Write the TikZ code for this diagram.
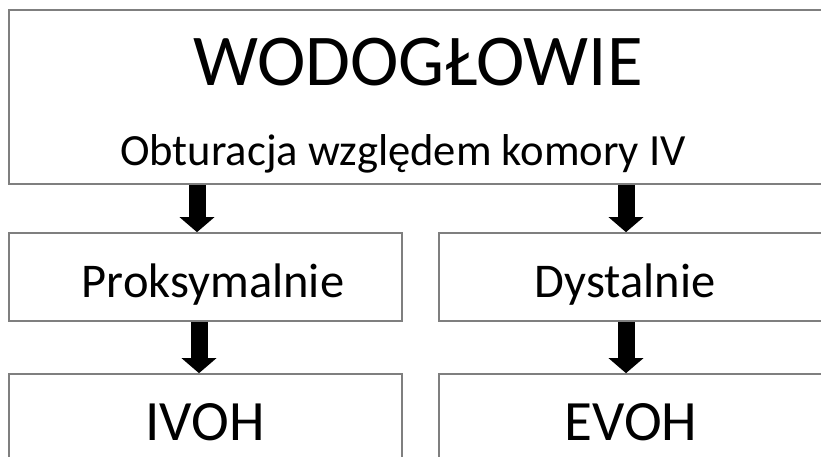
\documentclass[tikz,border=0pt]{standalone}
\usepackage{fontspec}
\setmainfont{Carlito}
\usetikzlibrary{arrows.meta,calc}
\definecolor{boxgray}{HTML}{7F7F7F}
\tikzset{
  box/.style={draw=boxgray, line width=1.6pt, fill=white, inner sep=0pt},
  lbl/.style={anchor=base, inner sep=0pt, text=black},
  blockarrow/.style={line width=17pt, draw=black, -{Triangle[width=34pt,length=15pt]}, shorten >=0pt},
}
\begin{document}
\begin{tikzpicture}[x=1pt,y=-1pt]
\useasboundingbox (0,0) rectangle (821,457);
\clip (0,0) rectangle (821,457);
\fill[white] (0,0) rectangle (821,457);
% boxes
\node[box, minimum width=821pt, minimum height=174pt] (top) at (419.5,97) {};
\node[box, minimum width=393pt, minimum height=88pt] (prox) at (205.5,277) {};
\node[box, minimum width=393pt, minimum height=88pt] (dist) at (635.5,277) {};
\node[box, minimum width=393pt, minimum height=100pt] (ivoh) at (205.5,424) {};
\node[box, minimum width=393pt, minimum height=100pt] (evoh) at (635.5,424) {};
% labels
\node[lbl, font=\fontsize{73}{77}\selectfont] (t1) at (418,86) {WODOGŁOWIE};
\node[lbl, font=\fontsize{44.6}{48}\selectfont] (t2) at (403,166) {Obturacja względem komory IV};
\node[lbl, font=\fontsize{48.5}{52}\selectfont] (t3) at (213,297) {Proksymalnie};
\node[lbl, font=\fontsize{48.5}{52}\selectfont] (t4) at (625,297) {Dystalnie};
\node[lbl, font=\fontsize{57}{60}\selectfont] (t5) at (205,440) {IVOH};
\node[lbl, font=\fontsize{57}{60}\selectfont] (t6) at (631,440) {EVOH};
% arrows
\coordinate (a1) at (197,0);
\coordinate (a2) at (626,0);
\coordinate (a3) at (199,0);
\coordinate (a4) at (626,0);
\draw[blockarrow] (top.south -| a1) -- (prox.north -| a1);
\draw[blockarrow] (top.south -| a2) -- (dist.north -| a2);
\draw[blockarrow] (prox.south -| a3) -- (ivoh.north -| a3);
\draw[blockarrow] (dist.south -| a4) -- (evoh.north -| a4);
\end{tikzpicture}
\end{document}
